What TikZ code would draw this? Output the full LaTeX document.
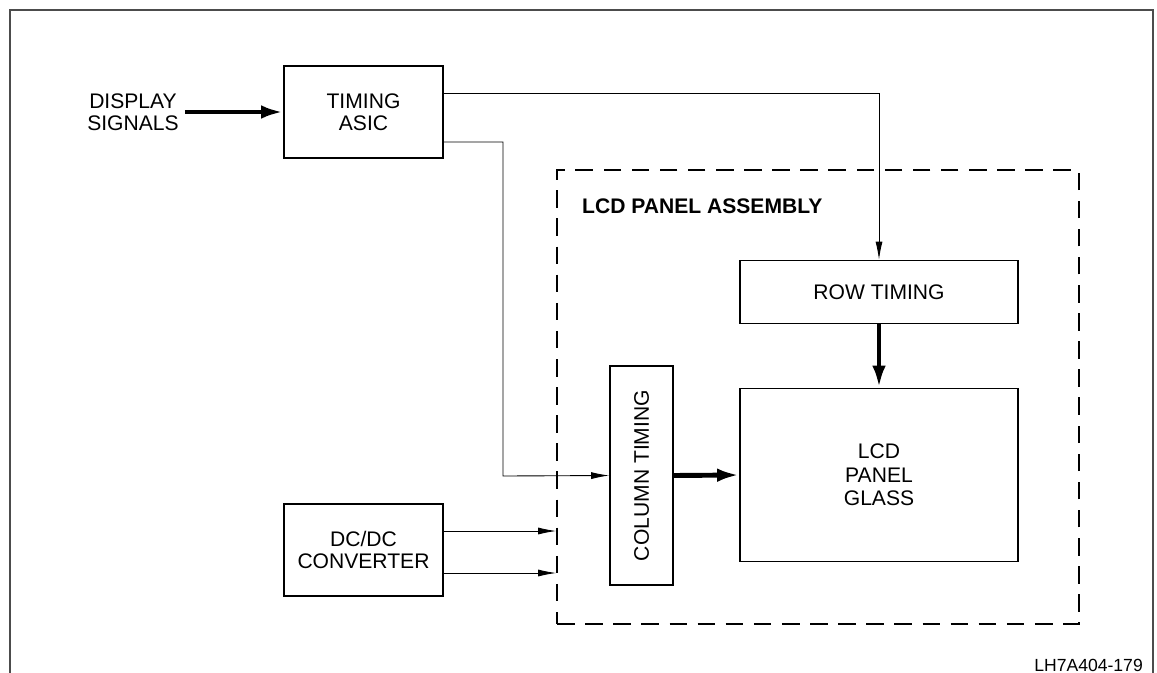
\documentclass[tikz,border=0pt]{standalone}
\usepackage{fontspec}
\setmainfont{Liberation Sans}
\usetikzlibrary{arrows.meta}

\tikzset{
  blk/.style={draw, line width=1pt, inner sep=0pt, align=center},
  dashbox/.style={draw, line width=1pt, dash pattern=on 10pt off 6pt, inner sep=0pt},
  thin/.style={line width=0.5pt, -{Latex[length=0.36cm,width=0.14cm]}},
  fat/.style={line width=2.8pt, -{Latex[length=0.44cm,width=0.27cm]}},
}

\begin{document}
\begin{tikzpicture}[x=0.02cm,y=-0.02cm,font=\fontsize{12}{12.5}\selectfont]
\useasboundingbox (0,0) rectangle (1157,673);
% outer frame
\draw[line width=0.6pt,black!70] (10,673) -- (10,10) -- (1153,10) -- (1153,673);
\node[anchor=base east,font=\fontsize{10}{12}\selectfont] (fig) at (1149,671) {LH7A404-179};

% blocks
\node[blk, minimum width=3.18cm, minimum height=1.84cm] (asic) at (363.5,112) {TIMING\\ASIC};
\node[blk, minimum width=3.18cm, minimum height=1.84cm] (dc) at (363.5,550) {DC/DC\\CONVERTER};
\node[align=center] (sig) at (133,112) {DISPLAY\\SIGNALS};

\node[dashbox, minimum width=10.44cm, minimum height=9.08cm] (asm) at (818,397) {};
\node[anchor=west, font=\fontsize{12}{12.5}\selectfont\bfseries] (asmlbl) at (576,206) {LCD PANEL ASSEMBLY};

\node[blk, minimum width=5.56cm, minimum height=1.26cm] (row) at (879,292) {ROW TIMING};
\node[blk, minimum width=5.56cm, minimum height=3.46cm, font=\fontsize{12}{13.5}\selectfont] (lcd) at (879,475) {LCD\\PANEL\\GLASS};
\node[blk, minimum width=1.26cm, minimum height=4.38cm] (col) at (641.5,475.5) {};
\node[rotate=90] (collbl) at (col) {COLUMN TIMING};

% connectors
\draw[fat] (sig.east |- asic.west) -- (asic.west);
\draw[thin] (asic.east |- 0,93) -| (row.north);
\draw[thin] (asic.east |- 0,142) -| (503,476) -- (col.west);
\draw[fat] (row.south) -- (lcd.north);
\draw[fat] (col.east) -- (lcd.west);
\draw[thin] (dc.east |- 0,531) -- (asm.west |- 0,531);
\draw[thin] (dc.east |- 0,573) -- (asm.west |- 0,573);
\end{tikzpicture}
\end{document}
